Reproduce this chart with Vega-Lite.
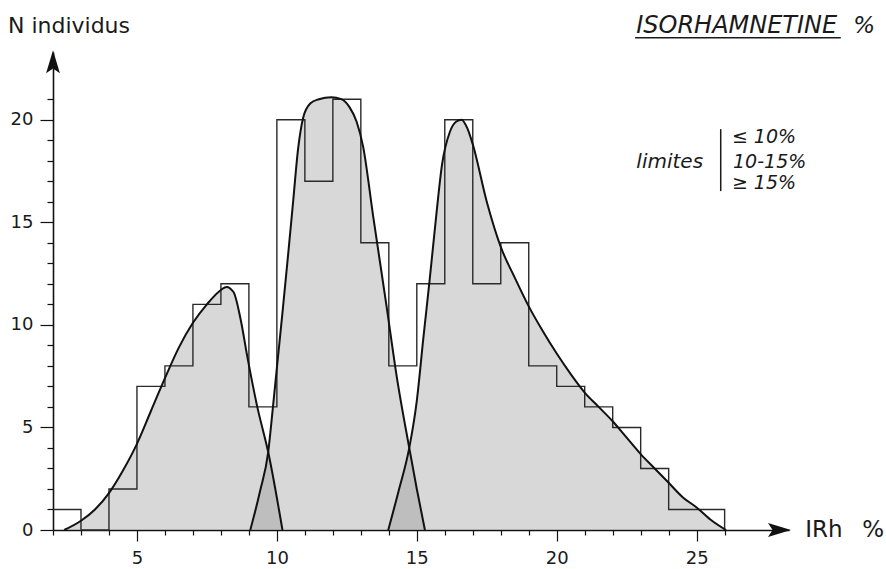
{
  "$schema": "https://vega.github.io/schema/vega-lite/v6.json",
  "width": 736,
  "height": 478,
  "autosize": {"type": "none"},
  "padding": {"left": 53, "top": 52, "right": 97, "bottom": 39},
  "background": "white",
  "config": {"view": {"stroke": null}, "font": "DejaVu Sans", "axis": {"labelOverlap": false, "labelFlush": false, "labelBound": false}},
  "datasets": {
    "hist": [
      {"x": 2, "n": 1}, {"x": 3, "n": 0}, {"x": 4, "n": 2}, {"x": 5, "n": 7}, {"x": 6, "n": 8},
      {"x": 7, "n": 11}, {"x": 8, "n": 12}, {"x": 9, "n": 6}, {"x": 10, "n": 20}, {"x": 11, "n": 17},
      {"x": 12, "n": 21}, {"x": 13, "n": 14}, {"x": 14, "n": 8}, {"x": 15, "n": 12}, {"x": 16, "n": 20},
      {"x": 17, "n": 12}, {"x": 18, "n": 14}, {"x": 19, "n": 8}, {"x": 20, "n": 7}, {"x": 21, "n": 6},
      {"x": 22, "n": 5}, {"x": 23, "n": 3}, {"x": 24, "n": 1}, {"x": 25, "n": 1}, {"x": 26, "n": 0}
    ],
    "curves": [
      {"g": "≤ 10%", "x": 2.4, "n": 0}, {"g": "≤ 10%", "x": 3, "n": 0.45}, {"g": "≤ 10%", "x": 3.5, "n": 1.0},
      {"g": "≤ 10%", "x": 4, "n": 1.8}, {"g": "≤ 10%", "x": 4.5, "n": 2.9}, {"g": "≤ 10%", "x": 5, "n": 4.2},
      {"g": "≤ 10%", "x": 5.5, "n": 5.8}, {"g": "≤ 10%", "x": 6, "n": 7.4}, {"g": "≤ 10%", "x": 6.5, "n": 8.9},
      {"g": "≤ 10%", "x": 7, "n": 10.1}, {"g": "≤ 10%", "x": 7.5, "n": 11.0}, {"g": "≤ 10%", "x": 8, "n": 11.7},
      {"g": "≤ 10%", "x": 8.2, "n": 11.85}, {"g": "≤ 10%", "x": 8.45, "n": 11.6}, {"g": "≤ 10%", "x": 8.7, "n": 10.3},
      {"g": "≤ 10%", "x": 8.95, "n": 8.4}, {"g": "≤ 10%", "x": 9.3, "n": 6.0}, {"g": "≤ 10%", "x": 9.69, "n": 3.8},
      {"g": "≤ 10%", "x": 10.2, "n": 0},
      {"g": "10-15%", "x": 9.05, "n": 0}, {"g": "10-15%", "x": 9.4, "n": 1.9}, {"g": "10-15%", "x": 9.69, "n": 3.8},
      {"g": "10-15%", "x": 9.86, "n": 6.0}, {"g": "10-15%", "x": 10.0, "n": 7.9}, {"g": "10-15%", "x": 10.2, "n": 10.6},
      {"g": "10-15%", "x": 10.4, "n": 13.4}, {"g": "10-15%", "x": 10.58, "n": 16.0}, {"g": "10-15%", "x": 10.76, "n": 18.6},
      {"g": "10-15%", "x": 10.94, "n": 20.1}, {"g": "10-15%", "x": 11.2, "n": 20.8}, {"g": "10-15%", "x": 11.5, "n": 21.0},
      {"g": "10-15%", "x": 11.95, "n": 21.1}, {"g": "10-15%", "x": 12.3, "n": 21.0}, {"g": "10-15%", "x": 12.6, "n": 20.6},
      {"g": "10-15%", "x": 12.85, "n": 19.9}, {"g": "10-15%", "x": 13.08, "n": 18.7}, {"g": "10-15%", "x": 13.44, "n": 15.3},
      {"g": "10-15%", "x": 13.92, "n": 10.9}, {"g": "10-15%", "x": 14.28, "n": 7.5}, {"g": "10-15%", "x": 14.73, "n": 4.0},
      {"g": "10-15%", "x": 15.0, "n": 2.0}, {"g": "10-15%", "x": 15.29, "n": 0},
      {"g": "≥ 15%", "x": 13.98, "n": 0}, {"g": "≥ 15%", "x": 14.35, "n": 1.9}, {"g": "≥ 15%", "x": 14.73, "n": 4.0},
      {"g": "≥ 15%", "x": 15.0, "n": 6.3}, {"g": "≥ 15%", "x": 15.23, "n": 9.3}, {"g": "≥ 15%", "x": 15.46, "n": 12.2},
      {"g": "≥ 15%", "x": 15.7, "n": 15.4}, {"g": "≥ 15%", "x": 15.9, "n": 17.8}, {"g": "≥ 15%", "x": 16.18, "n": 19.4},
      {"g": "≥ 15%", "x": 16.4, "n": 19.9}, {"g": "≥ 15%", "x": 16.6, "n": 20.0}, {"g": "≥ 15%", "x": 16.8, "n": 19.6},
      {"g": "≥ 15%", "x": 17.0, "n": 18.8}, {"g": "≥ 15%", "x": 17.5, "n": 16.0}, {"g": "≥ 15%", "x": 18.0, "n": 13.8},
      {"g": "≥ 15%", "x": 18.5, "n": 12.3}, {"g": "≥ 15%", "x": 19.0, "n": 10.9}, {"g": "≥ 15%", "x": 19.5, "n": 9.7},
      {"g": "≥ 15%", "x": 20.0, "n": 8.6}, {"g": "≥ 15%", "x": 20.5, "n": 7.6}, {"g": "≥ 15%", "x": 21.0, "n": 6.7},
      {"g": "≥ 15%", "x": 21.5, "n": 6.0}, {"g": "≥ 15%", "x": 22.0, "n": 5.3}, {"g": "≥ 15%", "x": 22.5, "n": 4.5},
      {"g": "≥ 15%", "x": 23.0, "n": 3.7}, {"g": "≥ 15%", "x": 23.5, "n": 3.0}, {"g": "≥ 15%", "x": 24.0, "n": 2.3},
      {"g": "≥ 15%", "x": 24.5, "n": 1.6}, {"g": "≥ 15%", "x": 25.0, "n": 1.1}, {"g": "≥ 15%", "x": 25.5, "n": 0.5},
      {"g": "≥ 15%", "x": 26.05, "n": 0}
    ]
  },
  "encoding": {
    "x": {"type": "quantitative", "scale": {"domain": [2, 28.3], "nice": false, "zero": false},
      "axis": {"title": null, "grid": false, "values": [2,3,4,5,6,7,8,9,10,11,12,13,14,15,16,17,18,19,20,21,22,23,24,25,26],
        "labelOverlap": false, "labelFlush": false, "labelBound": false,
        "labelExpr": "datum.value % 5 === 0 ? datum.label : ''",
        "tickSize": {"condition": {"test": "datum.value % 5 === 0", "value": 11}, "value": 5},
        "domainColor": "#111", "domainWidth": 1.6, "tickColor": "#111", "tickWidth": 1.2,
        "labelFontSize": 18, "labelColor": "#1a1a1a", "labelPadding": 8, "labelFont": "DejaVu Sans"}},
    "y": {"type": "quantitative", "scale": {"domain": [0, 23.3], "nice": false},
      "axis": {"title": null, "grid": false, "values": [0,1,2,3,4,5,6,7,8,9,10,11,12,13,14,15,16,17,18,19,20,21],
        "labelOverlap": false, "labelFlush": false, "labelBound": false,
        "labelExpr": "datum.value % 5 === 0 ? datum.label : ''",
        "tickSize": {"condition": {"test": "datum.value % 5 === 0", "value": 13}, "value": 6},
        "domainColor": "#111", "domainWidth": 1.6, "tickColor": "#111", "tickWidth": 1.2,
        "labelFontSize": 18, "labelColor": "#1a1a1a", "labelPadding": 7, "labelFont": "DejaVu Sans"}}
  },
  "layer": [
    {"data": {"name": "curves"},
     "mark": {"type": "area", "interpolate": "monotone", "fill": "#8a8a8a", "fillOpacity": 0.33},
     "encoding": {"x": {"field": "x", "type": "quantitative"}, "y": {"field": "n", "type": "quantitative", "stack": null}, "detail": {"field": "g"}}},
    {"data": {"name": "hist"},
     "mark": {"type": "line", "interpolate": "step-after", "stroke": "#2a2a2a", "strokeWidth": 1.4},
     "encoding": {"x": {"field": "x", "type": "quantitative"}, "y": {"field": "n", "type": "quantitative"}}},
    {"data": {"name": "curves"},
     "mark": {"type": "line", "interpolate": "monotone", "stroke": "#111", "strokeWidth": 2},
     "encoding": {"x": {"field": "x", "type": "quantitative"}, "y": {"field": "n", "type": "quantitative"}, "detail": {"field": "g"}}},
    {"data": {"values": [{}]},
     "mark": {"type": "point", "shape": "M0,-1L0.6,1L0,0.6L-0.6,1Z", "filled": true, "fill": "#111", "size": 529, "opacity": 1, "strokeWidth": 0},
     "encoding": {"x": {"datum": 2}, "y": {"datum": 22.83}}},
    {"data": {"values": [{}]},
     "mark": {"type": "point", "shape": "M1,0L-1,0.6L-0.6,0L-1,-0.6Z", "filled": true, "fill": "#111", "size": 529, "opacity": 1, "strokeWidth": 0},
     "encoding": {"x": {"datum": 27.96}, "y": {"datum": 0}}},
    {"data": {"values": [{}]},
     "mark": {"type": "text", "text": "N individus", "align": "left", "baseline": "alphabetic", "fontSize": 22, "color": "#1a1a1a", "font": "DejaVu Sans"},
     "encoding": {"x": {"datum": 0.39}, "y": {"datum": 24.22}}},
    {"data": {"values": [{}]},
     "mark": {"type": "text", "text": "ISORHAMNETINE", "align": "left", "baseline": "alphabetic", "fontSize": 24, "fontStyle": "italic", "color": "#1a1a1a", "font": "DejaVu Sans"},
     "encoding": {"x": {"datum": 22.84}, "y": {"datum": 24.22}}},
    {"data": {"values": [{}]},
     "mark": {"type": "text", "text": "%", "align": "left", "baseline": "alphabetic", "fontSize": 23, "fontStyle": "italic", "color": "#1a1a1a", "font": "DejaVu Sans"},
     "encoding": {"x": {"datum": 30.6}, "y": {"datum": 24.22}}},
    {"data": {"values": [{}]},
     "mark": {"type": "rule", "stroke": "#1a1a1a", "strokeWidth": 1.5},
     "encoding": {"x": {"datum": 22.8}, "x2": {"datum": 30.15}, "y": {"datum": 24.0}}},
    {"data": {"values": [{}]},
     "mark": {"type": "text", "text": "limites", "align": "right", "baseline": "middle", "fontSize": 20, "fontStyle": "italic", "color": "#1a1a1a", "font": "DejaVu Sans"},
     "encoding": {"x": {"datum": 25.23}, "y": {"datum": 17.93}}},
    {"data": {"values": [{}]},
     "mark": {"type": "rule", "stroke": "#1a1a1a", "strokeWidth": 1.5},
     "encoding": {"x": {"datum": 25.86}, "y": {"datum": 19.54}, "y2": {"datum": 16.52}}},
    {"data": {"values": [{}]},
     "mark": {"type": "text", "text": "≤ 10%", "align": "left", "baseline": "middle", "fontSize": 19, "fontStyle": "italic", "color": "#1a1a1a", "font": "DejaVu Sans"},
     "encoding": {"x": {"datum": 26.26}, "y": {"datum": 19.17}}},
    {"data": {"values": [{}]},
     "mark": {"type": "text", "text": "10-15%", "align": "left", "baseline": "middle", "fontSize": 19, "fontStyle": "italic", "color": "#1a1a1a", "font": "DejaVu Sans"},
     "encoding": {"x": {"datum": 26.30}, "y": {"datum": 17.95}}},
    {"data": {"values": [{}]},
     "mark": {"type": "text", "text": "≥ 15%", "align": "left", "baseline": "middle", "fontSize": 19, "fontStyle": "italic", "color": "#1a1a1a", "font": "DejaVu Sans"},
     "encoding": {"x": {"datum": 26.26}, "y": {"datum": 16.90}}},
    {"data": {"values": [{}]},
     "mark": {"type": "text", "text": "IRh", "align": "left", "baseline": "middle", "fontSize": 23, "color": "#1a1a1a", "font": "DejaVu Sans"},
     "encoding": {"x": {"datum": 28.88}, "y": {"datum": 0}}},
    {"data": {"values": [{}]},
     "mark": {"type": "text", "text": "%", "align": "left", "baseline": "middle", "fontSize": 23, "color": "#1a1a1a", "font": "DejaVu Sans"},
     "encoding": {"x": {"datum": 30.92}, "y": {"datum": 0}}}
  ]
}
